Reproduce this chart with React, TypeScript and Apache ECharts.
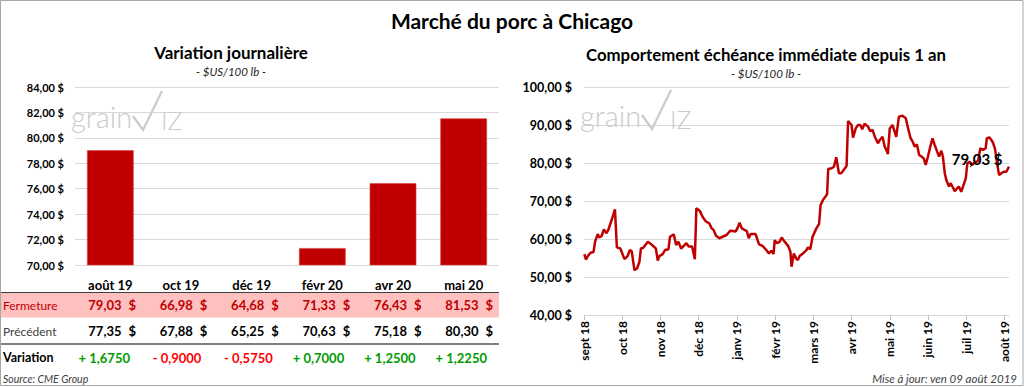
import React, { useEffect, useRef } from 'react';
import * as echarts from 'echarts';

// ---------- DATA ----------
const contracts = ['août 19', 'oct 19', 'déc 19', 'févr 20', 'avr 20', 'mai 20'];
const closes = [79.03, 66.98, 64.68, 71.33, 76.43, 81.53];
const previous = [77.35, 67.88, 65.25, 70.63, 75.18, 80.3];
const changes = [1.675, -0.9, -0.575, 0.7, 1.25, 1.225];

const barAxisMin = 70;
const barAxisMax = 84;
const barAxisStep = 2;

const monthLabels = ['sept 18', 'oct 18', 'nov 18', 'déc 18', 'janv 19', 'févr 19', 'mars 19', 'avr 19', 'mai 19', 'juin 19', 'juil 19', 'août 19'];
const monthTicks = [0, 1, 2, 3, 4, 5, 6, 7, 8, 9, 10, 11];
const lineAxisMin = 40;
const lineAxisMax = 100;
const lineAxisStep = 10;

// position in months since 1 sept 2018
const pricePos = [
  0.01, 0.05, 0.1, 0.17, 0.25, 0.29, 0.36, 0.4, 0.46, 0.52, 0.59, 0.64, 0.71, 0.81, 0.86, 0.95,
  1.06, 1.14, 1.2, 1.25, 1.32, 1.39, 1.45, 1.49, 1.55, 1.67, 1.75, 1.88, 1.93, 1.97,
  2.06, 2.12, 2.21, 2.25, 2.35, 2.41, 2.47, 2.54, 2.61, 2.68, 2.74, 2.83, 2.9, 2.94,
  3.03, 3.11, 3.19, 3.28, 3.34, 3.39, 3.45, 3.54, 3.73, 3.83, 3.97,
  4.03, 4.07, 4.13, 4.2, 4.26, 4.31, 4.36, 4.49, 4.58, 4.67, 4.77, 4.84, 4.9, 4.96, 4.99,
  5.05, 5.12, 5.17, 5.25, 5.34, 5.4, 5.43, 5.49, 5.56, 5.6, 5.64, 5.73, 5.82, 5.86, 5.92, 5.98,
  6.08, 6.15, 6.19, 6.26, 6.33, 6.36, 6.39, 6.48, 6.54, 6.6, 6.67, 6.73, 6.8, 6.87, 6.91,
  7.0, 7.04, 7.11, 7.17, 7.23, 7.28, 7.34, 7.43, 7.49, 7.55, 7.61, 7.69, 7.74, 7.81, 7.87, 7.93, 7.95,
  8.0, 8.07, 8.13, 8.17, 8.24, 8.33, 8.42, 8.47, 8.54, 8.61, 8.65, 8.71, 8.77, 8.83, 8.89, 8.94,
  9.0, 9.05, 9.12, 9.17, 9.24, 9.29, 9.35, 9.39, 9.44, 9.48, 9.55, 9.59, 9.64, 9.7, 9.76, 9.81, 9.87, 9.93, 9.99,
  10.03, 10.09, 10.16, 10.22, 10.31, 10.37, 10.44, 10.51, 10.54, 10.61, 10.69, 10.75, 10.81, 10.86, 10.92, 10.98,
  11.05, 11.12,
];
const priceVal = [
  56.0, 54.6, 55.5, 56.4, 56.6, 59.3, 61.3, 60.4, 60.8, 62.5, 61.5, 62.5, 64.6, 67.8, 57.8, 57.5,
  54.7, 55.5, 57.1, 56.7, 51.8, 52.3, 54.0, 57.5, 57.7, 59.3, 58.7, 57.5, 54.3, 55.5,
  56.0, 57.1, 57.3, 60.6, 61.2, 58.4, 59.3, 57.5, 58.2, 58.9, 58.0, 58.0, 54.7, 68.1,
  67.4, 65.7, 64.6, 64.1, 62.8, 62.4, 60.9, 60.2, 61.05, 62.2, 62.0,
  63.2, 64.3, 62.8, 62.4, 62.1, 60.2, 61.3, 61.3, 58.6, 58.2, 57.1, 56.2, 56.9, 56.05, 59.7,
  58.9, 59.3, 60.4, 59.3, 58.2, 56.7, 52.7, 56.2, 54.7, 54.5, 55.5, 56.2, 57.1, 57.8, 57.3, 60.6,
  62.8, 63.9, 68.9, 70.4, 71.3, 71.8, 78.4, 78.6, 79.0, 81.5, 77.3, 77.3, 78.2, 79.2, 91.05,
  90.0, 86.7, 89.1, 90.0, 90.0, 88.9, 90.3, 89.6, 88.4, 88.7, 86.9, 85.2, 86.05, 86.9, 84.3, 83.0, 82.3,
  89.1, 90.0, 88.2, 86.9, 92.2, 92.45, 91.8, 89.5, 86.7, 85.4, 84.3, 84.9, 82.1, 81.7, 81.2, 79.5,
  81.7, 83.9, 86.5, 84.9, 83.0, 81.7, 83.2, 81.7, 77.3, 75.5, 73.8, 74.7, 73.8, 72.6, 73.3, 73.8, 72.4, 74.2, 76.0,
  79.9, 80.3, 79.5, 80.2, 80.5, 83.9, 83.4, 83.9, 86.5, 86.7, 85.6, 83.9, 79.9, 76.8, 77.3, 77.7,
  77.7, 79.03,
];

const mainTitle = 'Marché du porc à Chicago';
const leftTitle = 'Variation journalière';
const rightTitle = 'Comportement échéance immédiate depuis 1 an';
const unitText = '- $US/100 lb -';
const rowLabels = ['Fermeture', 'Précédent', 'Variation'];
const sourceText = 'Source: CME Group';
const updateText = 'Mise à jour: ven 09 août 2019';

// ---------- STYLE ----------
const FONT = 'Lato, "Noto Sans", "DejaVu Sans", sans-serif';
const RED = '#C00000';
const GRID_COLOR = '#D9D9D9';

const fmt2 = (v: number) => v.toFixed(2).replace('.', ',');
const fmtChange = (v: number) => (v >= 0 ? '+ ' : '- ') + Math.abs(v).toFixed(4).replace('.', ',');

function txt(x: number, y: number, text: string, opts: any = {}) {
  return {
    type: 'text',
    x,
    y,
    z: 10,
    silent: true,
    style: {
      text,
      fill: opts.fill || '#000',
      font: opts.font || `12px ${FONT}`,
      align: opts.align || 'left',
      verticalAlign: opts.verticalAlign || 'middle',
    },
  };
}

function logo(x: number, baseline: number) {
  const c = '#CBCBCB';
  return [
    {
      type: 'text', x, y: baseline, z: 1, silent: true,
      style: { text: 'grain', fill: c, font: `300 29px ${FONT}`, align: 'left', verticalAlign: 'bottom' },
    },
    {
      type: 'polyline', z: 1, silent: true,
      shape: { points: [[x + 62, baseline - 15], [x + 72, baseline - 1], [x + 91, baseline - 40]] },
      style: { stroke: c, lineWidth: 2.2, fill: null },
    },
    {
      type: 'text', x: x + 90, y: baseline + 1, z: 1, silent: true,
      style: { text: 'IZ', fill: c, font: `300 25px ${FONT}`, align: 'left', verticalAlign: 'bottom' },
    },
  ];
}

export default function App() {
  const ref = useRef<HTMLDivElement>(null);

  useEffect(() => {
    document.body.style.margin = '0';
    if (!ref.current) return;
    const chart = echarts.init(ref.current, null, { renderer: 'svg' });

    const lineData = pricePos.map((p, i) => [p, priceVal[i]]);
    const lastIdx = pricePos.length - 1;

    // table geometry
    const colRight = (i: number) => 141 + 71.4 * i;
    const rowY = [305, 331, 357.5];
    const tableEls: any[] = [];
    tableEls.push({
      type: 'rect', z: 5, silent: true,
      shape: { x: 1, y: 292.5, width: 498, height: 25 },
      style: { fill: '#FFC0C0' },
    });
    tableEls.push({
      type: 'line', z: 6, silent: true,
      shape: { x1: 1, y1: 292.5, x2: 499, y2: 292.5 },
      style: { stroke: '#3F3F3F', lineWidth: 1 },
    });
    tableEls.push({
      type: 'line', z: 6, silent: true,
      shape: { x1: 1, y1: 344, x2: 499, y2: 344 },
      style: { stroke: '#7F7F7F', lineWidth: 2 },
    });
    tableEls.push(txt(3, rowY[0], rowLabels[0], { fill: RED, font: `12px ${FONT}` }));
    tableEls.push(txt(3, rowY[1], rowLabels[1], { fill: '#404040', font: `12px ${FONT}` }));
    tableEls.push(txt(3, rowY[2], rowLabels[2], { fill: '#000', font: `bold 12.5px ${FONT}` }));
    contracts.forEach((_, i) => {
      const r = colRight(i);
      tableEls.push(txt(r - 19.5, rowY[0], fmt2(closes[i]), { fill: RED, font: `bold 13px ${FONT}`, align: 'right' }));
      tableEls.push(txt(r - 5, rowY[0], '$', { fill: RED, font: `bold 13px ${FONT}`, align: 'right' }));
      tableEls.push(txt(r - 19.5, rowY[1], fmt2(previous[i]), { fill: '#000', font: `bold 13px ${FONT}`, align: 'right' }));
      tableEls.push(txt(r - 5, rowY[1], '$', { fill: '#000', font: `bold 13px ${FONT}`, align: 'right' }));
      tableEls.push(
        txt(r - 11, rowY[2], fmtChange(changes[i]), {
          fill: changes[i] >= 0 ? '#009A00' : '#FF0000',
          font: `bold 13px ${FONT}`,
          align: 'right',
        })
      );
    });

    const graphics: any[] = [
      {
        type: 'rect', z: 20, silent: true,
        shape: { x: 0.5, y: 0.5, width: 1022.5, height: 385 },
        style: { fill: null, stroke: '#A6A6A6', lineWidth: 1 },
      },
      txt(512, 20, mainTitle, { font: `bold 21px ${FONT}`, align: 'center' }),
      txt(231, 52, leftTitle, { font: `bold 17px ${FONT}`, align: 'center' }),
      txt(231, 71, unitText, { font: `italic 11.5px ${FONT}`, align: 'center', fill: '#262626' }),
      txt(766, 54, rightTitle, { font: `bold 16.8px ${FONT}`, align: 'center' }),
      txt(766, 73, unitText, { font: `italic 11.5px ${FONT}`, align: 'center', fill: '#262626' }),
      ...logo(71, 131),
      ...logo(580, 130),
      ...tableEls,
      txt(3, 379, sourceText, { font: `italic 10.5px ${FONT}`, fill: '#404040' }),
      txt(1017, 378, updateText, { font: `italic 11.5px ${FONT}`, fill: '#404040', align: 'right' }),
    ];

    const option: any = {
      animation: false,
      backgroundColor: '#fff',
      textStyle: { fontFamily: FONT },
      grid: [
        { left: 75, top: 87, width: 424, height: 178 },
        { left: 584, top: 87, width: 425, height: 228 },
      ],
      xAxis: [
        {
          type: 'category',
          gridIndex: 0,
          data: contracts,
          axisLine: { show: false },
          axisTick: { show: false },
          axisLabel: { margin: 13, color: '#000', fontWeight: 'bold', fontSize: 13, fontFamily: FONT },
        },
        {
          type: 'value',
          gridIndex: 1,
          min: 0,
          max: pricePos[lastIdx],
          axisLine: { show: true, lineStyle: { color: GRID_COLOR } },
          axisTick: { show: true, customValues: monthTicks, length: 5, lineStyle: { color: '#BFBFBF' } },
          splitLine: { show: false },
          axisLabel: {
            customValues: monthTicks,
            rotate: 90,
            margin: 6,
            color: '#000',
            fontWeight: 'bold',
            fontSize: 12,
            fontFamily: FONT,
            formatter: (v: number) => monthLabels[Math.round(v)] ?? '',
          },
        },
      ],
      yAxis: [
        {
          type: 'value',
          gridIndex: 0,
          min: barAxisMin,
          max: barAxisMax,
          interval: barAxisStep,
          axisLine: { show: false },
          axisTick: { show: false },
          splitLine: { lineStyle: { color: GRID_COLOR } },
          axisLabel: {
            margin: 11, color: '#000', fontWeight: 'bold', fontSize: 11, fontFamily: FONT,
            formatter: (v: number) => fmt2(v) + ' $',
          },
        },
        {
          type: 'value',
          gridIndex: 1,
          min: lineAxisMin,
          max: lineAxisMax,
          interval: lineAxisStep,
          axisLine: { show: false },
          axisTick: { show: false },
          splitLine: { lineStyle: { color: GRID_COLOR } },
          axisLabel: {
            margin: 12, color: '#000', fontWeight: 'bold', fontSize: 12.5, fontFamily: FONT,
            formatter: (v: number) => fmt2(v) + ' $',
          },
        },
      ],
      series: [
        {
          type: 'bar',
          xAxisIndex: 0,
          yAxisIndex: 0,
          data: closes,
          barWidth: '66%',
          itemStyle: { color: RED, borderColor: '#D94040', borderWidth: 0.6 },
          clip: true,
        },
        {
          type: 'line',
          xAxisIndex: 1,
          yAxisIndex: 1,
          data: lineData,
          showSymbol: false,
          symbol: 'none',
          lineStyle: { color: RED, width: 2.5 },
          z: 3,
        },
        {
          type: 'scatter',
          xAxisIndex: 1,
          yAxisIndex: 1,
          data: [lineData[lastIdx]],
          symbolSize: 1,
          itemStyle: { color: 'transparent', opacity: 1 },
          label: {
            show: true,
            position: 'left',
            distance: 6,
            offset: [0, -8],
            color: '#000',
            fontWeight: 'bold',
            fontSize: 15,
            fontFamily: FONT,
            formatter: (p: any) => fmt2(p.value[1]) + ' $',
          },
          z: 4,
        },
      ],
      graphic: graphics,
    };

    chart.setOption(option);
    return () => chart.dispose();
  }, []);

  return <div ref={ref} style={{ width: 1024, height: 387 }} />;
}
